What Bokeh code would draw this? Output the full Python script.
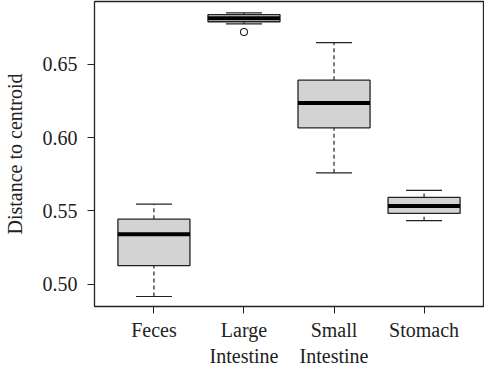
from bokeh.plotting import figure
from bokeh.models import Range1d, FixedTicker, ColumnDataSource
from bokeh.embed import file_html
from bokeh.resources import INLINE

# ---- data ----
categories = ["Feces", "Large\nIntestine", "Small\nIntestine", "Stomach"]
lower_whisker = [0.4917, 0.6774, 0.5760, 0.5434]
q1 = [0.5127, 0.6789, 0.6066, 0.5483]
median = [0.5341, 0.6813, 0.6236, 0.5533]
q3 = [0.5444, 0.6837, 0.6391, 0.5592]
upper_whisker = [0.5546, 0.6850, 0.6647, 0.5640]
outlier_group = [2]
outlier_value = [0.6719]
y_ticks = [0.50, 0.55, 0.60, 0.65]
y_tick_labels = ["0.50", "0.55", "0.60", "0.65"]
y_title = "Distance to centroid"

FONT = "Liberation Serif"
pos = list(range(1, len(categories) + 1))
box_w = 0.8
cap_w = 0.4

src = ColumnDataSource(dict(
    x=pos,
    xl=[p_ - box_w / 2 for p_ in pos],
    xr=[p_ + box_w / 2 for p_ in pos],
    cl=[p_ - cap_w / 2 for p_ in pos],
    cr=[p_ + cap_w / 2 for p_ in pos],
    lw=lower_whisker, q1=q1, med=median, q3=q3, uw=upper_whisker,
))

p = figure(width=484, height=369, output_backend="svg", toolbar_location=None,
           x_range=Range1d(0.34, 4.66), y_range=Range1d(0.4849, 0.6927),
           min_border_left=92, min_border_right=1, min_border_top=1,
           min_border_bottom=60)
p.background_fill_color = "white"
p.border_fill_color = "white"
p.outline_line_color = "#222222"
p.outline_line_width = 1.3
p.xgrid.visible = False
p.ygrid.visible = False

# whiskers (dashed)
p.segment(x0="x", x1="x", y0="q3", y1="uw", source=src, line_color="#222222",
          line_width=1.2, line_dash="4 3")
p.segment(x0="x", x1="x", y0="lw", y1="q1", source=src, line_color="#222222",
          line_width=1.2, line_dash="4 3")
# caps
p.segment(x0="cl", x1="cr", y0="uw", y1="uw", source=src, line_color="#222222", line_width=1.2)
p.segment(x0="cl", x1="cr", y0="lw", y1="lw", source=src, line_color="#222222", line_width=1.2)
# boxes
p.vbar(x="x", width=box_w, bottom="q1", top="q3", source=src,
       fill_color="#d3d3d3", line_color="#222222", line_width=1.3)
# medians
p.segment(x0="xl", x1="xr", y0="med", y1="med", source=src, line_color="black",
          line_width=4)
# outliers
p.scatter(x=outlier_group, y=outlier_value, marker="circle", size=7,
          fill_color=None, line_color="#222222", line_width=1.1)

# axes
xa = p.xaxis[0]
xa.ticker = FixedTicker(ticks=pos)
xa.major_label_overrides = {p_: c for p_, c in zip(pos, categories)}
xa.axis_line_color = None
xa.major_tick_line_color = "#222222"
xa.major_tick_out = 7
xa.major_tick_in = 0
xa.minor_tick_line_color = None
xa.major_label_standoff = 5
xa.major_label_text_font = FONT
xa.major_label_text_font_size = "20px"
xa.major_label_text_color = "#222222"

ya = p.yaxis[0]
ya.ticker = FixedTicker(ticks=y_ticks)
ya.major_label_overrides = {t: l for t, l in zip(y_ticks, y_tick_labels)}
ya.axis_line_color = None
ya.major_tick_line_color = "#222222"
ya.major_tick_out = 7
ya.major_tick_in = 0
ya.minor_tick_line_color = None
ya.major_label_standoff = 10
ya.major_label_text_font = FONT
ya.major_label_text_font_size = "20px"
ya.major_label_text_color = "#222222"
ya.axis_label = y_title
ya.axis_label_text_font = FONT
ya.axis_label_text_font_size = "20px"
ya.axis_label_text_font_style = "normal"
ya.axis_label_text_color = "#222222"
ya.axis_label_standoff = 14

open("out.html", "w").write(file_html(p, INLINE))
